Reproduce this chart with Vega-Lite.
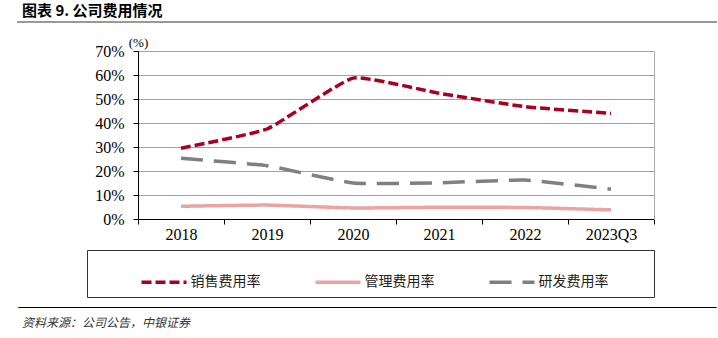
{
  "$schema": "https://vega.github.io/schema/vega-lite/v6.json",
  "padding": {"left": 17, "top": 3, "right": 0, "bottom": 0},
  "config": {"view": {"stroke": null}, "font": "Liberation Serif"},
  "datasets": {
    "fees": [
      {"period": "2018", "series": "销售费用率", "rate": 0.295},
      {"period": "2019", "series": "销售费用率", "rate": 0.375},
      {"period": "2020", "series": "销售费用率", "rate": 0.587},
      {"period": "2021", "series": "销售费用率", "rate": 0.524},
      {"period": "2022", "series": "销售费用率", "rate": 0.468},
      {"period": "2023Q3", "series": "销售费用率", "rate": 0.440},
      {"period": "2018", "series": "管理费用率", "rate": 0.053},
      {"period": "2019", "series": "管理费用率", "rate": 0.058},
      {"period": "2020", "series": "管理费用率", "rate": 0.046},
      {"period": "2021", "series": "管理费用率", "rate": 0.049},
      {"period": "2022", "series": "管理费用率", "rate": 0.048},
      {"period": "2023Q3", "series": "管理费用率", "rate": 0.038},
      {"period": "2018", "series": "研发费用率", "rate": 0.253},
      {"period": "2019", "series": "研发费用率", "rate": 0.222},
      {"period": "2020", "series": "研发费用率", "rate": 0.150},
      {"period": "2021", "series": "研发费用率", "rate": 0.151},
      {"period": "2022", "series": "研发费用率", "rate": 0.162},
      {"period": "2023Q3", "series": "研发费用率", "rate": 0.124}
    ]
  },
  "spacing": 2,
  "resolve": {"scale": {"color": "independent", "strokeDash": "independent"}},
  "vconcat": [
    {
      "spacing": 7,
      "resolve": {"scale": {"color": "independent", "strokeDash": "independent"}},
      "vconcat": [
        {
          "width": 698,
          "height": 0.01,
          "view": {"stroke": "#999999", "strokeWidth": 2},
          "title": {"text": "图表 9.  公司费用情况", "anchor": "start", "dx": 4, "offset": -3, "font": "Noto Sans CJK SC", "fontSize": 15, "fontWeight": "bold", "color": "#000000"},
          "data": {"values": [{}]},
          "mark": {"type": "text", "text": ""}
        },
        {
          "spacing": 0,
          "resolve": {"scale": {"color": "independent", "strokeDash": "independent"}},
          "hconcat": [
            {
              "width": 68,
              "height": 1,
              "data": {"values": [{}]},
              "mark": {"type": "text", "text": ""}
            },
            {
              "width": 516,
              "height": 168,
              "data": {"name": "fees"},
              "encoding": {
                "x": {
                  "field": "period", "type": "ordinal", "sort": null,
                  "scale": {"paddingInner": 0, "paddingOuter": 0},
                  "axis": {"title": null, "labelAngle": 0, "labelFont": "Liberation Serif", "labelFontSize": 16, "labelColor": "#000000", "labelPadding": 2, "tickBand": "extent", "tickSize": 5, "tickColor": "#000000", "domainColor": "#000000", "grid": false}
                }
              },
              "layer": [
                {
                  "mark": {"type": "line", "interpolate": "cardinal", "tension": 0.6, "strokeWidth": 3.5},
                  "encoding": {
                    "y": {
                      "field": "rate", "type": "quantitative",
                      "scale": {"domain": [0, 0.7]},
                      "axis": {"values": [0, 0.1, 0.2, 0.3, 0.4, 0.5, 0.6, 0.7], "format": ".0%", "title": "(%)", "titleAngle": 0, "titleX": 0, "titleY": -5, "titleAlign": "center", "titleBaseline": "alphabetic", "titleFont": "Liberation Serif", "titleFontSize": 13, "titleFontWeight": "normal", "titleColor": "#000000", "labelFont": "Liberation Serif", "labelFontSize": 16, "labelColor": "#000000", "labelPadding": 9, "tickSize": 5, "tickColor": "#000000", "domainColor": "#000000", "grid": true, "gridColor": "#444444", "gridDash": [1, 1], "gridWidth": 1}
                    },
                    "color": {
                      "field": "series", "type": "nominal",
                      "scale": {"domain": ["销售费用率", "管理费用率", "研发费用率"], "range": ["#A8001E", "#EBA3A3", "#808080"]},
                      "legend": {"orient": "none", "legendX": -51, "legendY": 199, "direction": "horizontal", "columns": 3, "title": " ", "titleOrient": "right", "titlePadding": 38, "titleFontSize": 11, "padding": 7.5, "strokeColor": "#333333", "symbolType": "stroke", "symbolSize": 2025, "symbolStrokeWidth": 3.5, "symbolOffset": 45, "labelOffset": 2, "columnPadding": 8, "labelFont": "Noto Sans CJK SC", "labelFontSize": 14, "labelColor": "#222222"}
                    },
                    "strokeDash": {
                      "field": "series", "type": "nominal",
                      "scale": {"domain": ["销售费用率", "管理费用率", "研发费用率"], "range": [[10, 4], [1, 0], [22, 11]]},
                      "legend": {"orient": "none", "legendX": -51, "legendY": 199, "direction": "horizontal", "columns": 3, "title": " ", "titleOrient": "right", "titlePadding": 38, "titleFontSize": 11, "padding": 7.5, "strokeColor": "#333333", "symbolType": "stroke", "symbolSize": 2025, "symbolStrokeWidth": 3.5, "symbolOffset": 45, "labelOffset": 2, "columnPadding": 8, "labelFont": "Noto Sans CJK SC", "labelFontSize": 14, "labelColor": "#222222"}
                    }
                  }
                },
                {
                  "mark": {"type": "line", "opacity": 0},
                  "encoding": {
                    "y": {
                      "field": "rate", "type": "quantitative",
                      "scale": {"domain": [0, 0.7]},
                      "axis": {"orient": "right", "labels": false, "ticks": false, "grid": false, "domainColor": "#A6A6A6", "title": null}
                    }
                  }
                }
              ],
              "resolve": {"axis": {"y": "independent"}}
            }
          ]
        }
      ]
    },
    {
      "width": 698,
      "height": 0.01,
      "view": {"stroke": "#000000", "strokeWidth": 1},
      "title": {"text": "资料来源：公司公告，中银证券", "orient": "bottom", "anchor": "start", "dx": 4, "offset": 6, "font": "Noto Sans CJK SC", "fontSize": 12, "fontStyle": "italic", "fontWeight": "normal", "color": "#333333"},
      "data": {"values": [{}]},
      "mark": {"type": "text", "text": ""}
    }
  ]
}
